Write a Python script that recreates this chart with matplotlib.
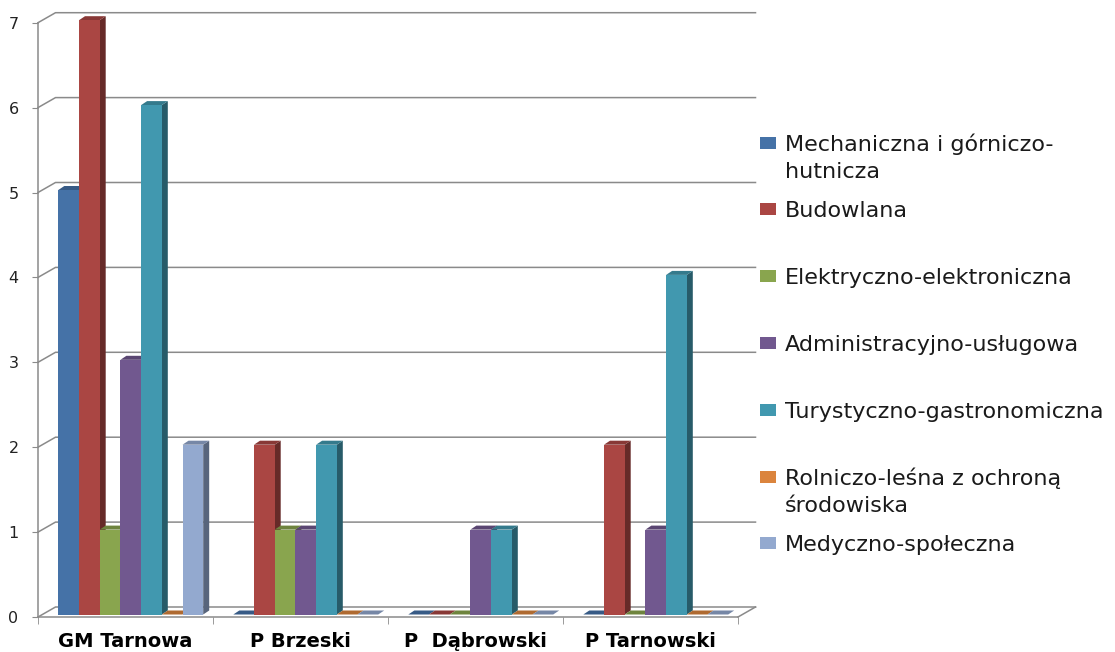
import numpy as np
import matplotlib.pyplot as plt
from matplotlib.patches import Polygon, Rectangle

# dane
groups = ["GM Tarnowa", "P Brzeski", "P  Dąbrowski", "P Tarnowski"]
series = ["Mechaniczna i górniczo-\nhutnicza", "Budowlana", "Elektryczno-elektroniczna",
          "Administracyjno-usługowa", "Turystyczno-gastronomiczna",
          "Rolniczo-leśna z ochroną\nśrodowiska", "Medyczno-społeczna"]
mechaniczna = [5, 0, 0, 0]
budowlana = [7, 2, 0, 2]
elektryczna = [1, 1, 0, 0]
administracja = [3, 1, 1, 1]
turystyka = [6, 2, 1, 4]
rolnicza = [0, 0, 0, 0]
medyczna = [2, 0, 0, 0]
values = [mechaniczna, budowlana, elektryczna, administracja, turystyka, rolnicza, medyczna]
colors = ["#4572A7", "#AA4643", "#89A54E", "#71588F", "#4198AF", "#DB843D", "#93A9CF"]

W, H = 1115, 652
fig = plt.figure(figsize=(W / 100, H / 100), dpi=100)
ax = fig.add_axes([38 / W, 35 / H, 700 / W, 594.3 / H])
ax.set_xlim(0, 4)
ax.set_ylim(0, 7)

px_x = 4 / 700.0      # data units per pixel
px_y = 7 / 594.3
grid_c = "#8a8a8a"

# back wall offset
wdx, wdy = 17.5 * px_x, 10 * px_y
for v in range(0, 8):
    ax.plot([0, wdx, 4 + wdx], [v, v + wdy, v + wdy], color=grid_c, lw=1.1,
            clip_on=False, zorder=1)
ax.plot([4, 4 + wdx], [0, wdy], color=grid_c, lw=1.1, clip_on=False, zorder=1)

# 3D bars
bw = 20.7 * px_x
ddx, ddy = 6 * px_x, 4 * px_y
lift = 2.5 * px_y
shift = 0.03


def shade(c, f):
    r, g, b = [int(c[i:i + 2], 16) / 255 for i in (1, 3, 5)]
    return (r * f, g * f, b * f)


for g in range(len(groups)):
    for i, vals in enumerate(values):
        v = vals[g]
        x0 = g + 0.5 + shift + (i - 3.5) * bw
        x1 = x0 + bw
        y0, y1 = lift, v + lift
        ax.add_patch(Polygon([[x1, y0], [x1 + ddx, y0 + ddy], [x1 + ddx, y1 + ddy], [x1, y1]],
                             closed=True, fc=shade(colors[i], 0.6), ec="none",
                             clip_on=False, zorder=3))
        ax.add_patch(Polygon([[x0, y1], [x1, y1], [x1 + ddx, y1 + ddy], [x0 + ddx, y1 + ddy]],
                             closed=True, fc=shade(colors[i], 0.8), ec="none",
                             clip_on=False, zorder=3))
        ax.bar(x0, v, width=bw, bottom=lift, align="edge", color=colors[i],
               edgecolor="none", zorder=3, clip_on=False)

# axes styling
for s in ["top", "right"]:
    ax.spines[s].set_visible(False)
for s in ["left", "bottom"]:
    ax.spines[s].set_color(grid_c)
    ax.spines[s].set_linewidth(1.1)
ax.set_yticks(range(0, 8))
ax.tick_params(axis="y", length=4, color=grid_c, pad=10, labelsize=11.5, labelcolor="#222222")
ax.set_xticks([g + 0.5 for g in range(len(groups))])
ax.set_xticklabels(groups, fontsize=14, fontweight="bold", color="black")
ax.set_xticks(range(0, 5), minor=True)
ax.tick_params(axis="x", which="major", length=0, pad=11)
ax.tick_params(axis="x", which="minor", length=5, color=grid_c)

# legend
for i, name in enumerate(series):
    yc = 142.5 + 66.8 * i
    fig.patches.append(Rectangle((760 / W, 1 - (yc + 6) / H), 15.5 / W, 12 / H,
                                 transform=fig.transFigure, fc=colors[i], ec="none"))
    for j, line in enumerate(name.split("\n")):
        fig.text(785 / W, 1 - (yc + 28 * j) / H, line, fontsize=16, va="center_baseline",
                 ha="left", color="#1a1a1a")

fig.savefig("out.png", dpi=100)
